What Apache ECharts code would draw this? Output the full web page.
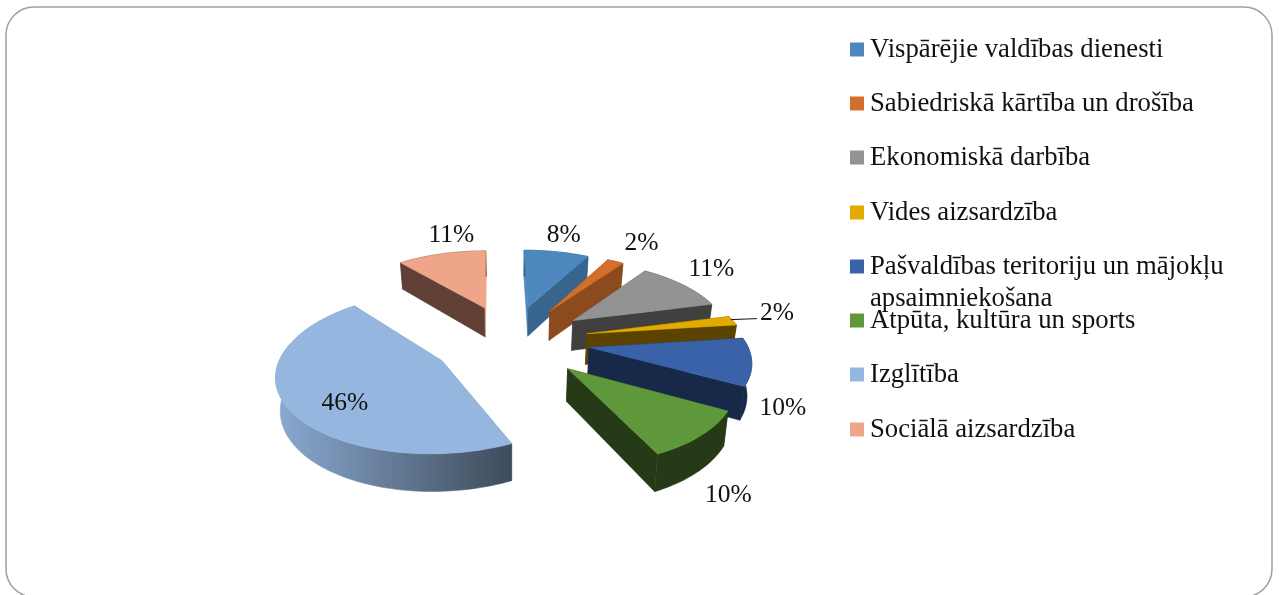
<!DOCTYPE html>
<html><head><meta charset="utf-8">
<style>html,body{margin:0;padding:0;background:#fff}#c{width:1279px;height:595px}</style>
<script src="https://cdn.jsdelivr.net/npm/echarts@6/dist/echarts.min.js"></script>
</head><body><div id="c"></div>
<script>
const categories = ['Vispārējie valdības dienesti','Sabiedriskā kārtība un drošība','Ekonomiskā darbība','Vides aizsardzība','Pašvaldības teritoriju un mājokļu apsaimniekošana','Atpūta, kultūra un sports','Izglītība','Sociālā aizsardzība'];
const values = [8,2,11,2,10,10,46,11];
const topColors = ['#4E87BD','#D2702B','#939393','#E3AB00','#3A62A9','#5F983B','#95B6DE','#EFA58A'];
const wallColors = ['#38658E','#8C4A1E','#404040','#5C4400','#172848','#273A17','#6F8CAF','#604035'];
const legendCenters = [50,104,158,213,267,321,375,430];
const labelNudges = [[7,-16],[26,-18],[28,-16],[44,-7],[31,46],[27,60],[58,-4],[10,-19]];

const FONT = '"Liberation Serif","Times New Roman",serif';
const view = {cx:511, cy:340.5, fx:157, fy:73.5, persp:0.14, explode:0.5, height:31, shrink:0.98, backSkew:-2.5};
const total = values.reduce((a,b)=>a+b,0);
const starts = values.map((_,i)=>values.slice(0,i).reduce((a,b)=>a+b,0)/total*Math.PI*2);

function pt(X,Y,low){
  const w = 1+view.persp*Y;
  let x = view.cx+(view.fx*X+view.backSkew*Math.max(Y,0))/w, y = view.cy-view.fy*Y/w;
  if(low){ x = view.cx+(x-view.cx)*view.shrink; y += view.height/w; }
  return [x,y];
}
function renderSlice(i){
  return function(params,api){
    const a0 = starts[i], v = api.value(0), a1 = a0+v/total*Math.PI*2, m=(a0+a1)/2;
    const ax = view.explode*Math.sin(m), ay = view.explode*Math.cos(m);
    const rim=(t)=>[ax+Math.sin(t),ay+Math.cos(t)];
    const arc=[]; const n=Math.max(4,Math.ceil((a1-a0)/0.03));
    for(let k=0;k<=n;k++) arc.push(rim(a0+(a1-a0)*k/n));
    const topPts=arc.map(p=>pt(p[0],p[1],false));
    const lowPts=arc.map(p=>pt(p[0],p[1],true));
    const apexT=pt(ax,ay,false), apexL=pt(ax,ay,true);
    const wall=wallColors[i];
    const onNoon=(t)=>Math.abs(Math.sin(t))<1e-6;
    const arcFill = i===6 ? {type:'linear',x:0,y:0,x2:1,y2:0,colorStops:[{offset:0,color:'#8AAAD2'},{offset:1,color:'#3E4B5A'}]} : wall;
    const poly=(points,fill)=>({type:'polygon',shape:{points},style:{fill,stroke:fill,lineWidth:0.5},silent:true});
    const kids=[
      poly([apexT,topPts[0],lowPts[0],apexL],onNoon(a0)?topColors[i]:wall),
      poly([apexT,topPts[n],lowPts[n],apexL],onNoon(a1)?topColors[i]:wall),
      poly(topPts.concat(lowPts.slice().reverse()),arcFill),
      poly([apexT].concat(topPts),topColors[i])
    ];
    const anchor=pt(ax+Math.sin(m),ay+Math.cos(m),false);
    const lx=anchor[0]+labelNudges[i][0], ly=anchor[1]+labelNudges[i][1];
    if(i===3){
      kids.push({type:'line',shape:{x1:lx-46,y1:ly+6,x2:lx-20,y2:ly+5},style:{stroke:'#111',lineWidth:1},silent:true});
    }
    kids.push({type:'text',style:{x:lx,y:ly,text:Math.round(v)+'%',font:'25.5px '+FONT,fill:'#111',align:'center',verticalAlign:'middle'},silent:true});
    return {type:'group',children:kids};
  };
}
const depthOrder = values.map((_,i)=>i).sort((a,b)=>{
  const mid=j=>starts[j]+values[j]/total*Math.PI;
  return Math.cos(mid(b))-Math.cos(mid(a));
});
const series = categories.map((name,i)=>({
  type:'custom',name,coordinateSystem:'none',silent:true,
  z:2+depthOrder.indexOf(i),
  itemStyle:{color:topColors[i]},
  data:[[values[i]]],
  renderItem:renderSlice(i)
}));
const legend = categories.map((name,i)=>({
  data:[{name,icon:'rect'}],
  left:850, top:legendCenters[i]-14, padding:0, itemWidth:14, itemHeight:14, selectedMode:false,
  orient:'vertical',
  formatter:(n)=>n.replace(' apsaimniekošana',''),
  textStyle:{fontFamily:FONT,fontSize:26.7,color:'#111',padding:[0,0,0,1]}
}));
const chart = echarts.init(document.getElementById('c'),null,{renderer:'canvas'});
chart.setOption({
  animation:false,
  backgroundColor:'#fff',
  legend,
  series,
  graphic:[
    {type:'rect',z:0,silent:true,shape:{x:6,y:7,width:1266,height:590,r:28},style:{fill:'#fff',stroke:'#A0A0A0',lineWidth:1.5}},
    {type:'text',z:10,silent:true,style:{x:870,y:299,text:'apsaimniekošana',font:'26.7px '+FONT,fill:'#111',verticalAlign:'middle'}}
  ]
});
</script></body></html>
